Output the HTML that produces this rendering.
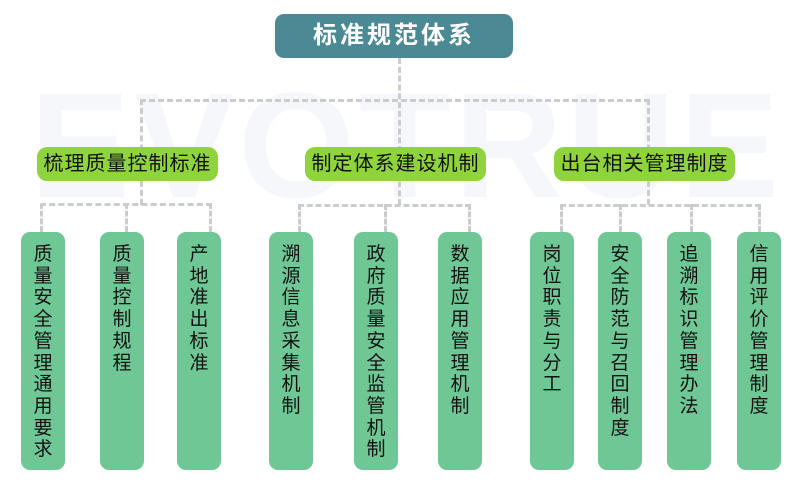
<!DOCTYPE html>
<html><head><meta charset="utf-8"><style>
body{margin:0;width:800px;height:486px;background:#fff;position:relative;overflow:hidden;font-family:"Liberation Sans","Noto Sans CJK SC",sans-serif}
.wm{position:absolute;left:30px;top:70px;font-size:150px;color:#f5f7fb;letter-spacing:4px;font-weight:bold;line-height:150px}
.h{position:absolute;border-top:3px dashed #ccc;height:0}
.v{position:absolute;border-left:3px dashed #ccc;width:0}
.t{position:absolute;left:275px;top:14px;width:238px;height:44px;background:#4b8a94;border-radius:9px;color:#fff;font-size:24px;font-weight:bold;text-align:center;line-height:44px;letter-spacing:3px}
.m{position:absolute;top:147px;width:181px;height:34px;background:#8fd43c;border-radius:10px;font-size:20px;line-height:34px;text-align:center;color:#111;letter-spacing:1px}
.l{position:absolute;top:232px;width:44px;height:238px;background:#6fc796;border-radius:9px;font-size:19px;line-height:21.7px;color:#111;text-align:center;padding-top:12px;box-sizing:border-box}
</style></head><body>
<div class="wm">EVOTRUE</div>
<div class="v" style="left:398px;top:58px;height:147px"></div>
<div class="h" style="left:140px;top:99px;width:510px"></div>
<div class="v" style="left:140px;top:99px;height:106px"></div>
<div class="v" style="left:647px;top:99px;height:106px"></div>
<div class="h" style="left:40px;top:203px;width:172px"></div>
<div class="v" style="left:40px;top:203px;height:29px"></div>
<div class="v" style="left:125px;top:203px;height:29px"></div>
<div class="v" style="left:209px;top:203px;height:29px"></div>
<div class="h" style="left:298px;top:204px;width:173px"></div>
<div class="v" style="left:298px;top:204px;height:28px"></div>
<div class="v" style="left:384px;top:204px;height:28px"></div>
<div class="v" style="left:468px;top:204px;height:28px"></div>
<div class="h" style="left:560px;top:204px;width:201px"></div>
<div class="v" style="left:560px;top:204px;height:28px"></div>
<div class="v" style="left:619px;top:204px;height:28px"></div>
<div class="v" style="left:690px;top:204px;height:28px"></div>
<div class="v" style="left:758px;top:204px;height:28px"></div>
<div class="t">标准规范体系</div>
<div class="m" style="left:37px">梳理质量控制标准</div>
<div class="m" style="left:305px">制定体系建设机制</div>
<div class="m" style="left:554px">出台相关管理制度</div>
<div class="l" style="left:21px">质<br>量<br>安<br>全<br>管<br>理<br>通<br>用<br>要<br>求</div>
<div class="l" style="left:100px">质<br>量<br>控<br>制<br>规<br>程</div>
<div class="l" style="left:177px">产<br>地<br>准<br>出<br>标<br>准</div>
<div class="l" style="left:269px">溯<br>源<br>信<br>息<br>采<br>集<br>机<br>制</div>
<div class="l" style="left:354px">政<br>府<br>质<br>量<br>安<br>全<br>监<br>管<br>机<br>制</div>
<div class="l" style="left:438px">数<br>据<br>应<br>用<br>管<br>理<br>机<br>制</div>
<div class="l" style="left:530px">岗<br>位<br>职<br>责<br>与<br>分<br>工</div>
<div class="l" style="left:598px">安<br>全<br>防<br>范<br>与<br>召<br>回<br>制<br>度</div>
<div class="l" style="left:667px">追<br>溯<br>标<br>识<br>管<br>理<br>办<br>法</div>
<div class="l" style="left:737px">信<br>用<br>评<br>价<br>管<br>理<br>制<br>度</div>
</body></html>
